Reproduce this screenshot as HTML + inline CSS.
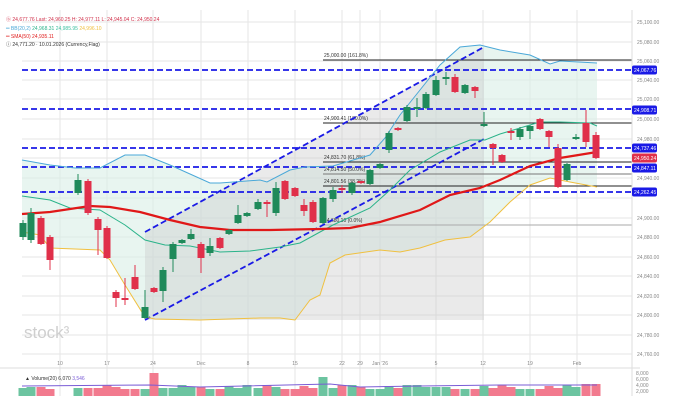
<!DOCTYPE html>
<html><head><meta charset="utf-8"><style>
html,body{margin:0;padding:0;background:#fff;}
svg{display:block;font-family:"Liberation Sans",sans-serif;}
</style></head><body>
<svg id="s" width="683" height="416" viewBox="0 0 683 416" xmlns="http://www.w3.org/2000/svg">
<g id="grid" stroke="#e6e6e6" stroke-width="1"></g>
<g id="bands"></g>
<polygon points="145,232 484,47 484,320 145,320" fill="#c8c8c8" fill-opacity="0.38"/>
<g id="fib" stroke="#222" stroke-width="1">
<line x1="323" y1="60" x2="632" y2="60"/>
<line x1="323" y1="123" x2="632" y2="123"/>
<line x1="323" y1="162" x2="632" y2="162"/>
<line x1="323" y1="174" x2="632" y2="174" stroke="#777"/>
<line x1="323" y1="186" x2="632" y2="186"/>
<line x1="323" y1="225" x2="632" y2="225" stroke="#aaa"/>
</g>
<g font-size="5" fill="#333">
<text x="324" y="57">25,000.00 (161.8%)</text>
<text x="324" y="120">24,900.41 (100.0%)</text>
<text x="324" y="159">24,831.70 (61.8%)</text>
<text x="324" y="171">24,814.50 (50.0%)</text>
<text x="324" y="183">24,801.56 (38.2%)</text>
<text x="324" y="222">24,680.10 (0.0%)</text>
</g>
<g stroke="#1a1ae6" stroke-width="1.8" stroke-dasharray="6,3" fill="none">
<line x1="22" y1="70" x2="632" y2="70"/>
<line x1="22" y1="109" x2="632" y2="109"/>
<line x1="22" y1="148" x2="632" y2="148"/>
<line x1="22" y1="167" x2="632" y2="167"/>
<line x1="22" y1="192" x2="632" y2="192"/>
<line x1="145" y1="232" x2="484" y2="47"/>
<line x1="145" y1="320" x2="484" y2="139"/>
</g>
<g id="lines"></g>
<g id="candles"></g>
<text x="24" y="338" font-size="17" fill="#cfcfcf">stock³</text>
<line x1="632" y1="10" x2="632" y2="396" stroke="#ddd"/>
<line x1="0" y1="368" x2="640" y2="368" stroke="#ddd"/>
<g id="vol"></g>
<g id="ax" font-size="5" fill="#888"></g>
<g font-size="5">
<text x="6" y="21" fill="#d0304a">ⓑ 24,677.76  Last: 24,960.25  H: 24,977.11  L: 24,945.04  C: 24,950.24</text>
<text x="6" y="30" fill="#4aa8d8">═ BB(20,2)  <tspan fill="#2bb38a">24,968.31</tspan> <tspan fill="#3cc0a0">24,985.95</tspan> <tspan fill="#f0c040">24,996.10</tspan></text>
<text x="6" y="38" fill="#e02020">═ SMA(50) 24,935.11</text>
<text x="6" y="46" fill="#333">ⓘ 24,771.20 · 10.01.2026 (Currency,Flag)</text>
<text x="25" y="380" fill="#333">▲ Volume(20) 6,070 <tspan fill="#7a5cd6">3,546</tspan></text>
</g>
</svg>
<script>
var NS="http://www.w3.org/2000/svg";
function el(p,t,a){var e=document.createElementNS(NS,t);for(var k in a)e.setAttribute(k,a[k]);document.getElementById(p).appendChild(e);return e;}
var gy=[22,42,61,80,99,119,139,158,178,198,218,237,257,276,296,315,335,354];
gy.forEach(function(y){el("grid","line",{x1:22,y1:y,x2:632,y2:y});});
var gx=[60,107,153,201,248,295,342,360,380,436,483,530,577];
gx.forEach(function(x){el("grid","line",{x1:x,y1:10,x2:x,y2:396});});
var vals=["25,100.00","25,080.00","25,060.00","25,040.00","25,020.00","25,000.00","24,980.00","24,960.00","24,940.00","24,920.00","24,900.00","24,880.00","24,860.00","24,840.00","24,820.00","24,800.00","24,780.00","24,760.00"];
gy.forEach(function(y,i){if(i==7||i==9)return;var t=el("ax","text",{x:637,y:y+2});t.textContent=vals[i];});
var xl=[[60,"10"],[107,"17"],[153,"24"],[201,"Dec"],[248,"8"],[295,"15"],[342,"22"],[360,"29"],[380,"Jan '26"],[436,"5"],[483,"12"],[530,"19"],[577,"Feb"]];
xl.forEach(function(a){var t=el("ax","text",{x:a[0],y:365,"text-anchor":"middle"});t.textContent=a[1];});
[["8,000",375],["6,000",381],["4,000",387],["2,000",393]].forEach(function(a){var t=el("ax","text",{x:636,y:a[1]});t.textContent=a[0];});
[[70,"#1a1ae6","24,067.76"],[110,"#1a1ae6","24,908.71"],[148,"#1a1ae6","24,737.46"],[158,"#e0304a","24,950.24"],[168,"#1a1ae6","24,847.11"],[192,"#1a1ae6","24,262.45"]].forEach(function(a){
el("ax","rect",{x:632,y:a[0]-4.5,width:25,height:9,rx:2,fill:a[1]});var t=el("ax","text",{x:634,y:a[0]+2,fill:"#fff"});t.textContent=a[2];});
function pts(a){return a.map(function(p){return p[0]+","+p[1];}).join(" ");}
var up=[[22,160],[50,165],[75,168],[100,168],[125,155],[145,155],[170,165],[210,183],[220,183],[260,180],[267,182],[290,170],[305,167],[333,166],[370,155],[385,138],[400,115],[420,90],[440,65],[460,47],[480,45],[500,50],[530,55],[550,64],[560,61],[597,63]];
var lo=[[22,232],[40,235],[50,248],[75,249],[100,250],[110,260],[125,285],[145,317],[155,319],[200,320],[260,318],[280,318],[295,320],[310,300],[320,295],[330,263],[345,255],[380,250],[400,252],[420,248],[445,240],[470,237],[490,222],[510,202],[530,185],[550,178],[570,182],[597,187]];
var mid=[[22,196],[50,200],[70,208],[100,210],[125,225],[145,240],[165,245],[190,246],[220,252],[250,251],[280,247],[300,243],[320,232],[333,225],[370,208],[390,190],[410,170],[440,152],[470,140],[485,140],[500,134],[520,128],[540,122],[560,122],[590,123],[597,126]];
var sma=[[22,214],[50,212],[90,206],[110,207],[140,212],[170,220],[200,227],[230,230],[270,230],[320,229],[350,228],[380,222],[420,210],[450,195],[480,188],[500,180],[530,166],[560,158],[597,152]];
el("bands","polygon",{points:pts(up.concat(lo.slice().reverse())),fill:"#d8efe6","fill-opacity":"0.6"});
el("lines","polyline",{points:pts(up),fill:"none",stroke:"#4aa8d8","stroke-width":1});
el("lines","polyline",{points:pts(lo),fill:"none",stroke:"#f0c040","stroke-width":1});
el("lines","polyline",{points:pts(mid),fill:"none",stroke:"#2bb38a","stroke-width":1});
el("lines","polyline",{points:pts(sma),fill:"none",stroke:"#e01818","stroke-width":2.2});
var G="#1f8a5a",R="#e0304a";
var c=[[23,223,237,220,240,1],[31,213,240,208,243,1],[41,218,244,216,245,0],[50,237,260,235,270,0],[78,180,193,174,195,1],[88,181,213,179,215,0],[98,219,230,217,255,0],[107,228,258,226,259,0],[116,292,298,290,307,0],[125,298,300,278,305,0],[135,277,289,265,290,0],[145,307,318,290,319,1],[154,288,292,287,293,0],[163,270,291,267,302,1],[173,244,259,242,272,1],[182,240,243,239,244,1],[191,234,239,229,240,1],[201,244,258,242,273,0],[210,246,253,238,256,1],[220,238,248,237,249,0],[229,230,234,229,235,1],[238,215,223,205,224,1],[247,213,216,212,217,1],[258,202,209,199,210,1],[267,202,204,200,217,0],[276,188,213,182,216,1],[285,181,199,180,200,0],[295,188,196,187,197,0],[304,205,211,199,216,0],[313,202,222,200,223,0],[323,198,223,197,224,1],[333,190,199,187,202,1],[342,188,190,185,193,0],[352,183,193,182,195,1],[361,181,183,181,184,0],[370,170,184,169,185,1],[380,164,168,163,169,1],[389,133,150,131,153,1],[398,128,130,127,131,0],[407,107,121,105,122,1],[417,107,109,98,117,1],[426,94,108,92,109,1],[436,80,95,76,96,1],[446,77,79,72,85,1],[455,77,92,74,93,0],[465,85,93,84,94,1],[475,87,91,86,98,0],[484,124,126,112,127,1],[493,144,148,143,165,0],[502,155,162,154,163,0],[511,131,133,128,140,0],[520,129,137,127,140,1],[530,126,131,125,139,1],[540,119,129,118,130,0],[549,131,137,130,147,0],[558,148,187,144,188,0],[567,164,180,163,181,1],[576,137,139,134,140,1],[586,123,142,110,147,0],[596,135,158,132,159,0]];
c.forEach(function(k){var col=k[5]?G:R;
el("candles","line",{x1:k[0],y1:k[3],x2:k[0],y2:k[4],stroke:col,"stroke-width":1});
el("candles","rect",{x:k[0]-3.5,y:k[1],width:7,height:Math.max(1.5,k[2]-k[1]),fill:col});
var h=7+((k[0]*7)%5);if(k[0]==154)h=23;if(k[0]==323)h=19;if(k[0]==586||k[0]==596)h=12;
el("vol","rect",{x:k[0]-4.5,y:396-h,width:9,height:h,fill:k[5]?"#6cc4a0":"#f27a8e"});
});
el("vol","polyline",{points:"22,386 150,385 200,387 330,384 360,387 420,386 500,385 597,385",fill:"none",stroke:"#7a5cd6","stroke-width":1});
</script>
</body></html>
